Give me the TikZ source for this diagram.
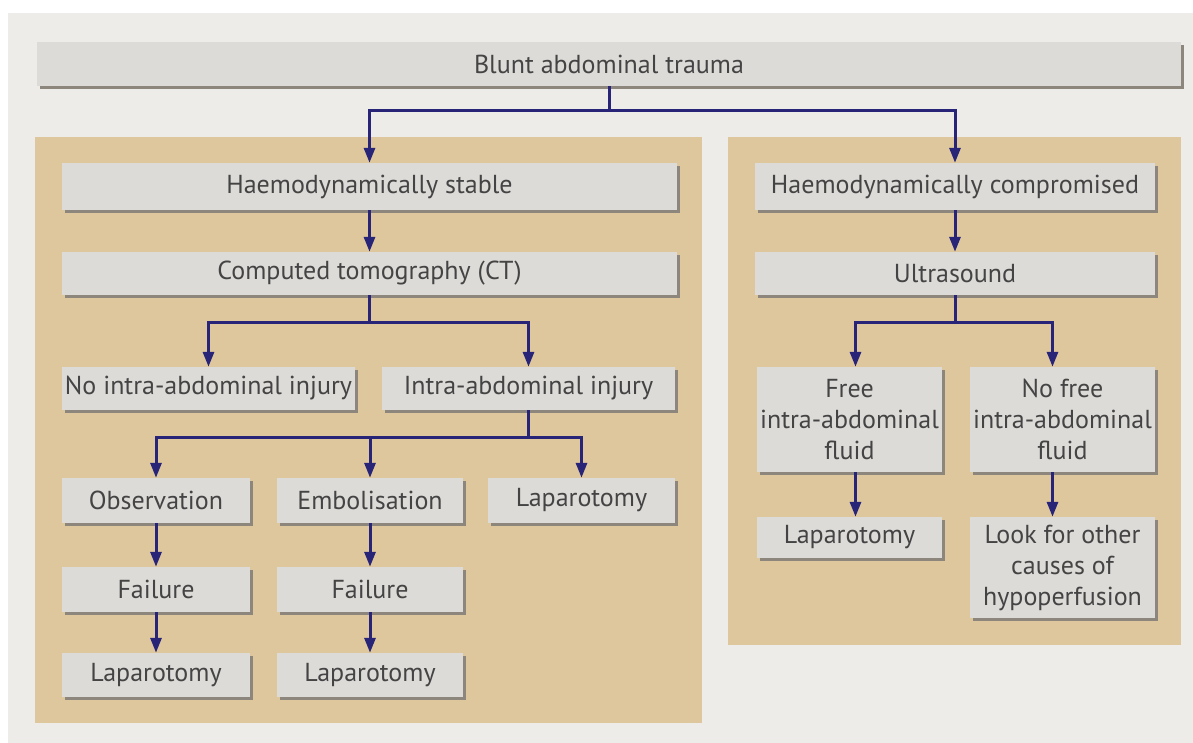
\documentclass[tikz,border=0pt]{standalone}
\usepackage{fontspec}
\setmainfont{PT Sans}
\usepackage{tikz}
\definecolor{bgc}{RGB}{238,236,233}
\definecolor{pan}{RGB}{222,199,157}
\definecolor{boxc}{RGB}{221,219,216}
\definecolor{shd}{RGB}{140,134,124}
\definecolor{arr}{RGB}{40,36,120}
\definecolor{txt}{RGB}{68,68,68}
\usetikzlibrary{arrows.meta,shadows}

\tikzset{
  box/.style={fill=boxc, text=txt, align=center, inner sep=0pt,
    font=\fontsize{26}{31}\selectfont,
    drop shadow={shadow xshift=3pt,shadow yshift=-3pt,fill=shd,opacity=1}},
  link/.style={draw=arr, line width=3pt},
  arrow/.style={link, -{Triangle[length=15pt,width=11pt]}},
}

\begin{document}
\begin{tikzpicture}[x=1pt,y=-1pt]
\useasboundingbox (0,0) rectangle (1193,743);
\fill[white] (0,0) rectangle (1193,743);
\fill[bgc] (8,13) rectangle (1193,743);
\fill[pan] (35,137) rectangle (702,723); % stable side
\fill[pan] (728,137) rectangle (1181,645); % compromised side

\node[box, minimum width=1144pt, minimum height=44pt] (blunt) at (609,64) {Blunt abdominal trauma};

% left panel
\node[box, minimum width=615pt, minimum height=47pt] (stable) at (369.5,186.5) {Haemodynamically stable};
\node[box, minimum width=615pt, minimum height=43pt] (ct) at (369.5,273.5) {Computed tomography (CT)};
\node[box, minimum width=293pt, minimum height=43pt] (noinj) at (208.5,388.5) {No intra-abdominal injury};
\node[box, minimum width=293pt, minimum height=43pt] (inj) at (528.5,388.5) {Intra-abdominal injury};
\node[box, minimum width=188pt, minimum height=45pt] (obs) at (156,500.5) {Observation};
\node[box, minimum width=186pt, minimum height=45pt] (embo) at (370,500.5) {Embolisation};
\node[box, minimum width=187pt, minimum height=45pt] (lapnow) at (581.5,500.5) {Laparotomy};
\node[box, minimum width=188pt, minimum height=45pt] (failobs) at (156,589.5) {Failure};
\node[box, minimum width=186pt, minimum height=45pt] (failemb) at (370,589.5) {Failure};
\node[box, minimum width=188pt, minimum height=44pt] (lapobs) at (156,675) {Laparotomy};
\node[box, minimum width=186pt, minimum height=44pt] (lapemb) at (370,675) {Laparotomy};

% right panel
\node[box, minimum width=400pt, minimum height=47pt] (comp) at (955,186.5) {Haemodynamically compromised};
\node[box, minimum width=400pt, minimum height=43pt] (us) at (955,273.5) {Ultrasound};
\node[box, minimum width=185pt, minimum height=105pt] (free) at (849.5,419.5) {Free\\intra-abdominal\\fluid};
\node[box, minimum width=185pt, minimum height=105pt] (nofree) at (1062.5,419.5) {No free\\intra-abdominal\\fluid};
\node[box, minimum width=185pt, minimum height=41pt] (lapfree) at (849.5,537.5) {Laparotomy};
\node[box, minimum width=185pt, minimum height=101pt] (look) at (1062.5,567.5) {Look for other\\causes of\\hypoperfusion};

% connectors
\draw[link] (blunt.south) -- ++(0,24) coordinate (splitA);
\draw[arrow] (splitA) -| (stable.north);
\draw[arrow] (splitA) -| (comp.north);

\draw[arrow] (stable) -- (ct);
\draw[link] (ct.south) -- ++(0,27) coordinate (splitB);
\draw[arrow] (splitB) -| (noinj.north);
\draw[arrow] (splitB) -| (inj.north);

\draw[link] (inj.south) -- ++(0,27) coordinate (splitC);
\draw[arrow] (splitC) -| (obs.north);
\draw[arrow] (splitC) -| (embo.north);
\draw[arrow] (splitC) -| (lapnow.north);
\draw[arrow] (obs) -- (failobs);
\draw[arrow] (failobs) -- (lapobs);
\draw[arrow] (embo) -- (failemb);
\draw[arrow] (failemb) -- (lapemb);

\draw[arrow] (comp) -- (us);
\draw[link] (us.south) -- ++(0,27) coordinate (splitD);
\draw[arrow] (splitD) -| ([xshift=6pt]free.north);
\draw[arrow] (splitD) -| ([xshift=-10pt]nofree.north);
\draw[arrow] ([xshift=6pt]free.south) -- ([xshift=6pt]lapfree.north);
\draw[arrow] ([xshift=-10pt]nofree.south) -- ([xshift=-10pt]look.north);
\end{tikzpicture}
\end{document}
